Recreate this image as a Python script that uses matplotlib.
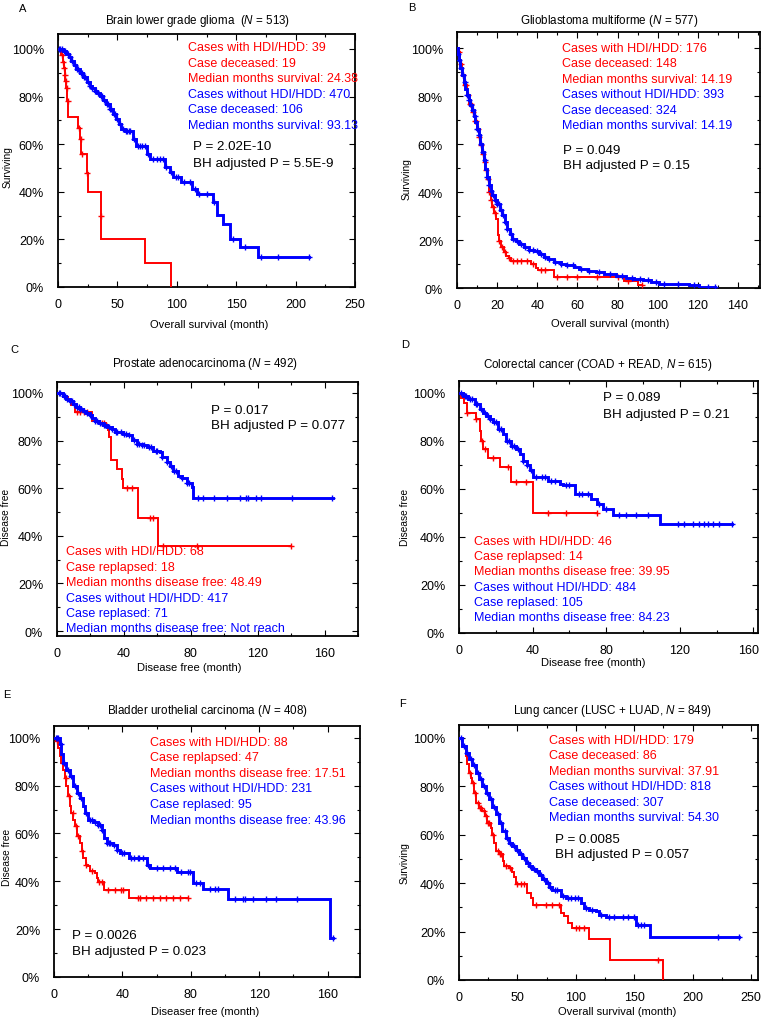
import numpy as np
import matplotlib
matplotlib.use('Agg')
import matplotlib.pyplot as plt
from matplotlib import font_manager as fm
from matplotlib.ticker import MultipleLocator, FuncFormatter
from matplotlib.transforms import ScaledTranslation

# ---------------- DATA ----------------
# Panel A: Brain lower grade glioma
A_red_t = [0, 2.8, 4.2, 5.0, 5.6, 6.3, 7.0, 7.7, 8.4, 16.9, 18.3, 19.7, 24.4, 25.3, 36.0, 36.5, 73.6, 94.7]
A_red_s = [100, 97.4, 94.7, 92.0, 89.2, 86.5, 83.7, 78.0, 71.3, 67.0, 62.0, 56.0, 47.8, 40.0, 30.0, 20.0, 10.0, 0.0]
A_red_end = 94.7
A_red_cens = [3.5, 4.6, 5.3, 6.0, 6.6, 7.3, 8.0, 17.5, 19.0, 20.3, 24.8, 36.2]
A_blue_t = [0, 4.2, 7.0, 9.0, 11.2, 13.3, 15.4, 18.3, 21.1, 24.0, 26.7, 28.8, 30.9, 33.0, 35.1, 38.0, 40.7, 43.5,
            46.3, 49.2, 51.3, 53.4, 56.2, 63.2, 66.0, 75.0, 77.2, 90.4, 94.1, 96.9, 103.9, 113.2, 116.6, 130.6,
            134.0, 138.5, 144.7, 145.2, 153.1, 168.5]
A_blue_s = [100, 99.3, 97.9, 96.5, 95.1, 93.3, 91.6, 89.8, 88.1, 86.3, 84.6, 83.5, 82.5, 81.4, 80.4, 78.6, 76.9, 74.8,
            72.7, 70.6, 68.5, 66.4, 65.7, 62.2, 59.4, 55.9, 53.8, 50.3, 48.3, 46.2, 44.1, 41.0, 39.2, 35.7,
            30.1, 26.6, 23.1, 20.0, 16.8, 12.6]
A_blue_end = 211.5
A_blue_cens = [1, 2, 3, 5, 6, 8, 10, 12, 14, 16, 17, 19, 20, 22, 23, 25, 27, 29, 31, 32, 34, 36, 37, 39, 41, 42,
               44, 45, 47, 48, 50, 52, 55, 57, 58, 60, 61, 64, 67, 69, 71, 73, 76, 80, 83, 86, 88, 91, 95, 99,
               101, 106, 111, 115, 119, 125, 131, 147, 157, 171, 185, 211.5]

# Panel B: Glioblastoma multiforme
B_red_t = [0, 0.8, 1.6, 2.5, 3.7, 5.0, 6.2, 7.5, 8.8, 10.0, 10.8, 11.7, 12.5, 13.3, 14.2, 15.0, 15.8, 16.7,
           17.5, 18.3, 19.2, 20.3, 20.8, 22.0, 23.3, 24.5, 25.8, 27.0, 36.7, 39.2, 40.2, 48.3, 83.3, 90.0]
B_red_s = [100, 98.3, 93.5, 88.6, 84.5, 80.3, 76.8, 73.3, 69.8, 66.4, 63.0, 59.4, 56.0, 52.5, 49.0, 45.6, 40.0,
           36.8, 33.8, 31.3, 28.9, 22.0, 19.5, 17.0, 15.0, 13.5, 12.5, 11.3, 10.0, 8.3, 7.6, 4.4, 2.8, 1.1]
B_red_end = 92.0
B_red_cens = [1, 2, 3, 4, 4.5, 5.5, 6.5, 7, 8, 9, 9.5, 10.5, 11, 12, 13, 14, 14.5, 15.5, 16, 17, 18, 19, 21,
              22.5, 24, 26, 28, 30, 32, 35, 38, 42, 44, 50, 55, 60, 70, 80, 85, 92]
B_blue_t = [0, 0.4, 0.8, 1.6, 2.5, 3.3, 4.2, 5.0, 5.8, 6.7, 7.5, 8.3, 9.2, 10.0, 10.8, 11.7, 12.5, 13.3, 14.2,
            15.0, 15.8, 16.7, 17.5, 18.8, 20.0, 21.2, 22.5, 23.8, 25.0, 26.2, 27.5, 29.2, 31.0, 33.3, 35.8,
            38.5, 40.8, 43.3, 45.5, 48.3, 51.8, 54.2, 58.5, 61.0, 65.2, 69.2, 73.5, 79.2, 84.2, 88.3, 92.5,
            96.7, 100.8, 115.8, 120.8]
B_blue_s = [100, 97.5, 95.0, 91.5, 88.6, 85.8, 83.1, 80.6, 78.2, 76.1, 74.0, 71.6, 69.2, 66.4, 63.6, 60.2, 56.7,
            53.2, 49.7, 46.2, 42.8, 40.5, 38.6, 36.8, 35.1, 32.7, 30.3, 27.5, 24.7, 22.5, 20.4, 19.5, 18.3,
            17.0, 15.9, 15.6, 14.2, 13.0, 12.1, 11.0, 10.0, 9.4, 8.6, 8.0, 7.2, 6.5, 5.8, 5.0, 4.3, 3.7, 3.2,
            2.5, 1.8, 1.4, 0.4]
B_blue_end = 128.8
B_blue_cens = [0.5, 1, 2, 3, 4, 5, 6, 7, 8, 9, 10, 11, 12, 13, 14, 15, 16, 17, 18, 19, 20, 21, 22, 23, 24, 25,
               27, 28, 30, 32, 34, 36, 38, 40, 42, 44, 46, 49, 52, 55, 58, 62, 66, 71, 76, 82, 87, 91, 95, 99,
               103, 110, 118, 125, 128.8]

# Panel C: Prostate adenocarcinoma
C_red_t = [0, 3.6, 6.6, 8.6, 10.6, 21.2, 25.6, 29.6, 30.6, 31.2, 32.2, 36.0, 38.6, 39.6, 48.4, 60.6]
C_red_s = [100, 98.3, 96.9, 94.8, 92.0, 88.2, 87.4, 86.4, 84.3, 81.5, 71.9, 68.1, 63.9, 60.1, 47.3, 35.8]
C_red_end = 140.0
C_red_cens = [12, 14, 16, 18, 27, 28, 41.6, 44.6, 55.6, 57.6, 63.6, 83.6, 140]
C_blue_t = [0, 3.6, 5.6, 7.6, 9.6, 11.6, 13.6, 15.6, 17.6, 19.6, 21.0, 22.6, 25.0, 27.6, 30.0, 32.6, 34.6, 39.6,
            42.6, 44.6, 47.6, 50.6, 53.6, 57.6, 61.6, 62.6, 65.6, 67.6, 69.6, 72.6, 74.6, 77.6, 80.6, 81.6]
C_blue_s = [100, 98.6, 97.5, 96.5, 95.3, 94.1, 93.2, 92.4, 91.5, 90.6, 89.4, 88.2, 87.2, 86.4, 85.6, 85.0, 83.6,
            82.9, 82.2, 80.1, 78.7, 78.0, 77.2, 75.8, 75.1, 73.0, 71.2, 69.5, 67.4, 65.3, 64.3, 62.2, 60.4, 55.8]
C_blue_end = 165.0
C_blue_cens = [1, 2, 4, 5, 6, 8, 9, 10, 12, 13, 14, 16, 18, 20, 23, 24, 26, 28, 29, 31, 33, 35, 36, 38, 40, 41,
               43, 46, 48, 49, 51, 52, 55, 56, 59, 60, 63, 66, 68, 70, 71, 75, 78, 79, 84.6, 87.6, 93.6, 101.6,
               109.2, 113.2, 114, 119.2, 122, 140.6, 164.6]

# Panel D: Colorectal cancer
D_red_t = [0, 1.3, 2.7, 4.3, 9.0, 11.3, 12.2, 13.1, 15.6, 22.1, 28.5, 40.0]
D_red_s = [100, 97.8, 95.5, 91.5, 89.0, 84.0, 80.0, 76.6, 72.8, 69.0, 62.8, 50.1]
D_red_end = 74.8
D_red_cens = [4.5, 9.5, 12.5, 13.9, 18.5, 26.6, 31, 36.6, 48.3, 58.3, 74.8]
D_blue_t = [0, 2.2, 4.9, 8.5, 11.3, 13.0, 14.9, 16.7, 18.5, 21.2, 24.0, 25.8, 28.5, 31.2, 33.0, 34.8, 36.7, 38.5,
            40.3, 48.5, 54.8, 56.6, 63.0, 72.0, 74.8, 78.4, 83.8, 109.3]
D_blue_s = [100, 98.6, 97.2, 95.2, 93.1, 91.7, 90.3, 89.0, 87.6, 84.8, 82.8, 80.0, 77.9, 76.6, 74.5, 71.7, 69.7,
            67.6, 64.8, 63.4, 62.1, 61.4, 57.9, 55.9, 53.8, 51.7, 49.0, 45.2]
D_blue_end = 148.3
D_blue_cens = [1, 3, 4, 6, 7, 9, 10, 12, 14, 16, 17, 19, 20, 22, 23, 26, 27, 29, 30, 32, 35, 37, 39, 42, 45, 47,
               50, 52, 58, 60, 65, 67, 70, 76, 80, 87.2, 90.9, 96.3, 102.6, 118.9, 122.5, 127.1, 130.7, 133.4,
               135.2, 137.9, 141.5, 148.3]

# Panel E: Bladder urothelial carcinoma
E_red_t = [0, 1.4, 2.4, 3.3, 4.3, 5.3, 6.3, 7.3, 8.2, 9.2, 10.2, 11.2, 12.2, 13.2, 15.1, 16.1, 17.1, 18.6, 20.0,
           21.0, 23.9, 24.9, 25.9, 29.2, 43.6]
E_red_s = [100, 98.6, 95.8, 92.3, 89.5, 86.7, 83.2, 79.7, 75.6, 71.4, 68.6, 65.8, 63.0, 58.8, 56.0, 52.5, 49.7,
           46.9, 46.2, 44.1, 43.4, 41.3, 39.9, 36.5, 33.0]
E_red_end = 78.4
E_red_cens = [2, 5, 7, 9, 11, 13, 14, 16.5, 19, 22, 26.5, 28, 31.6, 35.5, 39.4, 40.4, 49.2, 50.1, 54, 58, 61.9,
              65.8, 69.7, 73.6, 78.4]
E_blue_t = [0, 3.3, 4.3, 5.3, 7.3, 9.2, 11.2, 13.2, 15.1, 17.1, 18.1, 20.0, 23.0, 25.9, 27.9, 29.2, 30.8, 34.7,
            36.7, 38.7, 43.6, 54.4, 56.3, 72.0, 81.5, 87.2, 101.5, 161.4]
E_blue_s = [100, 97.2, 93.0, 89.5, 86.7, 83.9, 80.0, 77.0, 74.9, 71.4, 68.6, 65.8, 64.7, 63.7, 61.6, 58.1, 56.0,
            55.0, 53.2, 51.8, 49.7, 46.9, 45.5, 43.7, 39.2, 36.7, 32.7, 16.2]
E_blue_end = 163.3
E_blue_cens = [1, 2, 2.5, 4, 6, 8, 10, 12, 14, 16, 19, 21, 22, 24, 26, 27, 28, 31, 32, 33, 35, 37, 40, 41, 45,
               47, 49, 50, 52, 55, 60, 63.8, 67.7, 70.6, 74.5, 78.4, 79.4, 83.3, 85.3, 91.1, 94, 96, 105.8,
               110.6, 111.6, 116.5, 124.3, 130.1, 141.9, 163.3]

# Panel F: Lung cancer
F_red_t = [0, 2.9, 5.7, 7.1, 8.6, 10.0, 11.4, 12.9, 14.9, 17.1, 20.0, 22.3, 24.3, 27.1, 28.6, 30.0, 31.4, 34.3,
           37.7, 38.6, 42.9, 45.7, 47.1, 48.6, 58.6, 61.4, 63.4, 87.1, 90.0, 92.9, 97.1, 110.9, 129.1, 174.3]
F_red_s = [100, 96.6, 92.5, 89.0, 85.5, 83.5, 81.4, 77.2, 73.1, 71.0, 69.7, 67.6, 64.8, 62.8, 60.0, 56.6, 53.1,
           52.1, 49.0, 46.9, 46.2, 44.4, 42.5, 39.7, 35.9, 33.8, 31.0, 27.6, 26.2, 23.7, 21.4, 16.8, 8.3, 0.0]
F_red_end = 174.3
F_red_cens = [9, 12, 14, 16, 18, 19, 21, 23, 25, 26, 29, 33, 35, 36, 40, 44, 50, 53, 56, 65.7, 74.3, 80, 85.7,
              100, 102.9, 107.1, 170]
F_blue_t = [0, 2.9, 5.7, 8.6, 11.4, 14.3, 17.1, 20.0, 22.9, 25.7, 28.6, 31.4, 34.3, 37.1, 40.0, 42.9, 45.7, 48.6,
            51.4, 54.3, 57.1, 60.0, 62.9, 65.7, 68.6, 71.4, 74.3, 77.1, 80.0, 87.1, 91.4, 104.3, 107.1, 111.4,
            117.1, 120.0, 125.7, 151.4, 163.4]
F_blue_s = [100, 96.6, 93.5, 91.0, 88.6, 85.5, 82.8, 80.0, 77.2, 74.5, 71.4, 68.3, 64.8, 61.4, 58.6, 56.6, 55.2,
            53.8, 52.0, 50.3, 48.3, 46.9, 45.8, 44.8, 43.4, 41.7, 40.0, 38.3, 37.2, 34.5, 33.8, 31.7, 29.7,
            29.0, 28.3, 26.9, 25.9, 22.8, 17.9]
F_blue_end = 240.0
F_blue_cens = [1.5, 4, 7, 10, 13, 16, 19, 21, 24, 27, 30, 33, 36, 39, 41, 44, 47, 50, 53, 56, 59, 61, 64, 67, 70,
               73, 76, 78, 82, 84, 89, 93, 96, 99, 102, 109, 114, 122, 128, 133, 140, 145, 150, 152.9, 155.7,
               158.6, 221.4, 240]

# Texts
titles = ["Brain lower grade glioma  ($\\mathit{N}$ = 513)",
          "Glioblastoma multiforme ($\\mathit{N}$ = 577)",
          "Prostate adenocarcinoma ($\\mathit{N}$ = 492)",
          "Colorectal cancer (COAD + READ, $\\mathit{N}$ = 615)",
          "Bladder urothelial carcinoma ($\\mathit{N}$ = 408)",
          "Lung cancer (LUSC + LUAD, $\\mathit{N}$ = 849)"]
letters = ["A", "B", "C", "D", "E", "F"]
xlabels = ["Overall survival (month)", "Overall survival (month)", "Disease free (month)",
           "Disease free (month)", "Diseaser free (month)", "Overall survival (month)"]
ylabels = ["Surviving", "Surviving", "Disease free", "Disease free", "Disease free", "Surviving"]
red_texts = [["Cases with HDI/HDD: 39", "Case deceased: 19", "Median months survival: 24.38"],
             ["Cases with HDI/HDD: 176", "Case deceased: 148", "Median months survival: 14.19"],
             ["Cases with HDI/HDD: 68", "Case replapsed: 18", "Median months disease free: 48.49"],
             ["Cases with HDI/HDD: 46", "Case replapsed: 14", "Median months disease free: 39.95"],
             ["Cases with HDI/HDD: 88", "Case replapsed: 47", "Median months disease free: 17.51"],
             ["Cases with HDI/HDD: 179", "Case deceased: 86", "Median months survival: 37.91"]]
blue_texts = [["Cases without HDI/HDD: 470", "Case deceased: 106", "Median months survival: 93.13"],
              ["Cases without HDI/HDD: 393", "Case deceased: 324", "Median months survival: 14.19"],
              ["Cases without HDI/HDD: 417", "Case replased: 71", "Median months disease free: Not reach"],
              ["Cases without HDI/HDD: 484", "Case replased: 105", "Median months disease free: 84.23"],
              ["Cases without HDI/HDD: 231", "Case replased: 95", "Median months disease free: 43.96"],
              ["Cases without HDI/HDD: 818", "Case deceased: 307", "Median months survival: 54.30"]]
p_texts = [["P = 2.02E-10", "BH adjusted P = 5.5E-9"],
           ["P = 0.049", "BH adjusted P = 0.15"],
           ["P = 0.017", "BH adjusted P = 0.077"],
           ["P = 0.089", "BH adjusted P = 0.21"],
           ["P = 0.0026", "BH adjusted P = 0.023"],
           ["P = 0.0085", "BH adjusted P = 0.057"]]
xtick_vals = [[0, 50, 100, 150, 200, 250], [0, 20, 40, 60, 80, 100, 120, 140], [0, 40, 80, 120, 160],
              [0, 40, 80, 120, 160], [0, 40, 80, 120, 160], [0, 50, 100, 150, 200, 250]]
ytick_vals = [0, 20, 40, 60, 80, 100]

curves = [
    (A_red_t, A_red_s, A_red_end, A_red_cens, A_blue_t, A_blue_s, A_blue_end, A_blue_cens),
    (B_red_t, B_red_s, B_red_end, B_red_cens, B_blue_t, B_blue_s, B_blue_end, B_blue_cens),
    (C_red_t, C_red_s, C_red_end, C_red_cens, C_blue_t, C_blue_s, C_blue_end, C_blue_cens),
    (D_red_t, D_red_s, D_red_end, D_red_cens, D_blue_t, D_blue_s, D_blue_end, D_blue_cens),
    (E_red_t, E_red_s, E_red_end, E_red_cens, E_blue_t, E_blue_s, E_blue_end, E_blue_cens),
    (F_red_t, F_red_s, F_red_end, F_red_cens, F_blue_t, F_blue_s, F_blue_end, F_blue_cens),
]

# ---------------- LAYOUT ----------------
W, H = 762, 1020
BASE = 'Liberation Sans'


def find_font(cands):
    for name in cands:
        try:
            fm.findfont(fm.FontProperties(family=name), fallback_to_default=False)
            return name
        except Exception:
            pass
    return None


NARROW = find_font(['Liberation Sans Narrow', 'Arial Narrow'])
TITLE_FONT = NARROW if NARROW else BASE
TITLE_SIZE = 9.6 if NARROW else 8.4

plt.rcParams['font.family'] = [BASE, 'DejaVu Sans']
plt.rcParams['mathtext.fontset'] = 'custom'
plt.rcParams['mathtext.rm'] = TITLE_FONT
plt.rcParams['mathtext.it'] = TITLE_FONT + ':italic'

RED = '#ff0000'
BLUE = '#0000ff'

# axes boxes in pixels: left, top, right, bottom
boxes = [(58, 35, 355, 288), (457, 33, 760, 289), (57, 383, 358, 637),
         (459, 382, 758, 634), (54, 727, 360, 978), (459, 726, 758, 981)]
xlims = [(0, 250), (0, 151), (0, 180), (0, 162.5), (0, 179), (0, 256)]
ylims = [(0, 106.3), (0, 106.7), (-2.1, 104.6), (0, 104.8), (0, 104.9), (0, 105.2)]
xminor = [25, 10, 20, 20, 20, 25]
title_pos = [(198, 21), (609, 21), (205, 364), (598, 365), (207, 711), (613, 711)]
xlabel_pos = [(209, 325), (610, 324), (189, 668), (593, 663), (205, 1012), (617, 1012)]
ylabel_pos = [(8, 167), (407, 179), (6, 517), (405, 517), (7, 857), (405, 863)]
letter_pos = [(23, 9), (412, 8), (14, 350), (405, 345), (7, 695), (403, 704)]
block_pos = [(188, 48, 15.6), (562, 49, 15.4), (66, 552, 15.5), (474, 542, 15.2), (150, 743, 15.5),
             (549, 741, 15.4)]
p_pos = [(193, 147, 17), (563, 151, 15), (211, 411, 15), (603, 398, 17), (72, 936, 16), (555, 840, 15)]

fig = plt.figure(figsize=(W / 100, H / 100), dpi=100)


def fx(x):
    return x / W


def fy(y):
    return 1 - y / H


def km(ax, t, s, t_end, cens, color, lw, ms, z):
    tt = list(t) + [t_end]
    ss = list(s) + [s[-1]]
    ax.step(tt, ss, where='post', color=color, lw=lw, zorder=z, solid_joinstyle='miter')
    t_arr = np.asarray(t, dtype=float)
    s_arr = np.asarray(s, dtype=float)
    c = np.asarray(cens, dtype=float)
    idx = np.searchsorted(t_arr, c, side='right') - 1
    ax.plot(c, s_arr[idx], ls='none', marker='+', ms=ms, mew=1.0, color=color, zorder=z + 0.5)


for i in range(6):
    l, t, r, b = boxes[i]
    ax = fig.add_axes([fx(l), fy(b), (r - l) / W, (b - t) / H])
    rt, rs, rend, rc, bt, bs, bend, bc = curves[i]
    km(ax, rt, rs, rend, rc, RED, 1.4, 4.5, 3)
    km(ax, bt, bs, bend, bc, BLUE, 2.1, 5, 4)
    ax.set_xlim(*xlims[i])
    ax.set_ylim(*ylims[i])
    ax.set_xticks(xtick_vals[i])
    ax.set_yticks(ytick_vals)
    ax.xaxis.set_minor_locator(MultipleLocator(xminor[i]))
    ax.yaxis.set_minor_locator(MultipleLocator(10))
    ax.yaxis.set_major_formatter(FuncFormatter(lambda v, p: f"{int(round(v))}%"))
    ax.tick_params(which='both', direction='in', top=True, right=True, width=0.8)
    ax.tick_params(which='major', length=4.5)
    ax.tick_params(which='minor', length=2.5)
    ax.tick_params(axis='x', which='major', pad=8, labelsize=9)
    ax.tick_params(axis='y', which='major', pad=10, labelsize=9)
    for sp in ax.spines.values():
        sp.set_linewidth(1.3)
    if i == 3:
        fig.canvas.draw()
        lab = ax.get_xticklabels()[-1]
        lab.set_transform(lab.get_transform() + ScaledTranslation(-0.05, 0, fig.dpi_scale_trans))

    fig.text(fx(title_pos[i][0]), fy(title_pos[i][1]), titles[i], ha='center', va='center',
             fontsize=TITLE_SIZE, family=TITLE_FONT)
    fig.text(fx(xlabel_pos[i][0]), fy(xlabel_pos[i][1]), xlabels[i], ha='center', va='center', fontsize=8)
    fig.text(fx(ylabel_pos[i][0]), fy(ylabel_pos[i][1]), ylabels[i], ha='center', va='center', fontsize=7.3,
             rotation=90)
    fig.text(fx(letter_pos[i][0]), fy(letter_pos[i][1]), letters[i], ha='center', va='center', fontsize=8)

    bx, by, dy = block_pos[i]
    lines = [(s_, RED) for s_ in red_texts[i]] + [(s_, BLUE) for s_ in blue_texts[i]]
    for k, (txt, col) in enumerate(lines):
        fig.text(fx(bx), fy(by + k * dy), txt, ha='left', va='center', fontsize=9, color=col)
    px, py, pdy = p_pos[i]
    for k, txt in enumerate(p_texts[i]):
        fig.text(fx(px), fy(py + k * pdy), txt, ha='left', va='center', fontsize=9.6, color='black')

fig.savefig('out.png', dpi=100)
